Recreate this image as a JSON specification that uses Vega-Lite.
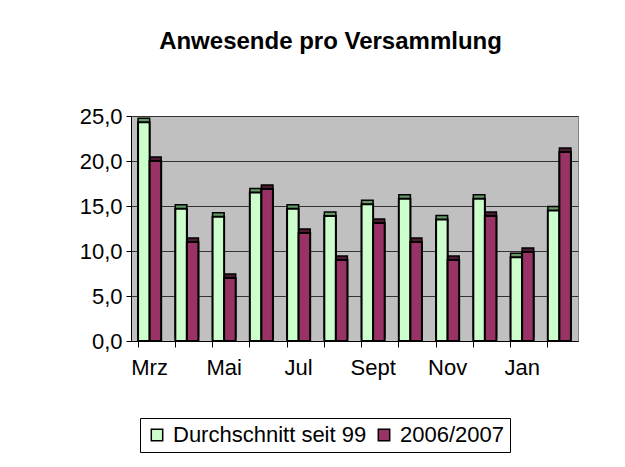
{
  "$schema": "https://vega.github.io/schema/vega-lite/v6.json",
  "width": 447,
  "height": 225,
  "autosize": {"type": "none"},
  "padding": {"left": 131, "top": 116, "right": 47, "bottom": 126},
  "background": "white",
  "title": {
    "text": "Anwesende pro Versammlung",
    "font": "Liberation Sans",
    "fontSize": 24,
    "fontWeight": "bold",
    "color": "black",
    "anchor": "middle",
    "dx": -24,
    "offset": 51
  },
  "data": {
    "values": [
      {"monat": "Mrz", "serie": "Durchschnitt seit 99", "wert": 24.3},
      {"monat": "Mrz", "serie": "2006/2007", "wert": 20.0},
      {"monat": "Apr", "serie": "Durchschnitt seit 99", "wert": 14.7},
      {"monat": "Apr", "serie": "2006/2007", "wert": 11.0},
      {"monat": "Mai", "serie": "Durchschnitt seit 99", "wert": 13.8},
      {"monat": "Mai", "serie": "2006/2007", "wert": 7.0},
      {"monat": "Jun", "serie": "Durchschnitt seit 99", "wert": 16.5},
      {"monat": "Jun", "serie": "2006/2007", "wert": 16.9},
      {"monat": "Jul", "serie": "Durchschnitt seit 99", "wert": 14.7},
      {"monat": "Jul", "serie": "2006/2007", "wert": 12.0},
      {"monat": "Aug", "serie": "Durchschnitt seit 99", "wert": 13.9},
      {"monat": "Aug", "serie": "2006/2007", "wert": 9.0},
      {"monat": "Sept", "serie": "Durchschnitt seit 99", "wert": 15.2},
      {"monat": "Sept", "serie": "2006/2007", "wert": 13.1},
      {"monat": "Okt", "serie": "Durchschnitt seit 99", "wert": 15.8},
      {"monat": "Okt", "serie": "2006/2007", "wert": 11.0},
      {"monat": "Nov", "serie": "Durchschnitt seit 99", "wert": 13.5},
      {"monat": "Nov", "serie": "2006/2007", "wert": 9.0},
      {"monat": "Dez", "serie": "Durchschnitt seit 99", "wert": 15.8},
      {"monat": "Dez", "serie": "2006/2007", "wert": 13.9},
      {"monat": "Jan", "serie": "Durchschnitt seit 99", "wert": 9.3},
      {"monat": "Jan", "serie": "2006/2007", "wert": 9.9},
      {"monat": "Feb", "serie": "Durchschnitt seit 99", "wert": 14.5},
      {"monat": "Feb", "serie": "2006/2007", "wert": 21.0}
    ]
  },
  "encoding": {
    "x": {
      "field": "monat",
      "type": "nominal",
      "sort": ["Mrz", "Apr", "Mai", "Jun", "Jul", "Aug", "Sept", "Okt", "Nov", "Dez", "Jan", "Feb"],
      "scale": {"paddingInner": 0.38, "paddingOuter": 0.19},
      "axis": {
        "title": null,
        "labelAngle": 0,
        "labelFont": "Liberation Sans",
        "labelFontSize": 22,
        "labelColor": "black",
        "labelPadding": 10,
        "labelExpr": "indexof(['Mrz','Mai','Jul','Sept','Nov','Jan'], datum.value) >= 0 ? datum.value : ''",
        "bandPosition": 0,
        "tickSize": 6,
        "tickColor": "black",
        "domainColor": "black",
        "grid": false
      }
    },
    "xOffset": {
      "field": "serie",
      "type": "nominal",
      "sort": ["Durchschnitt seit 99", "2006/2007"],
      "scale": {"paddingInner": 0}
    },
    "y": {
      "field": "wert",
      "type": "quantitative",
      "scale": {"domain": [0, 25], "nice": false},
      "axis": {
        "title": null,
        "values": [0, 5, 10, 15, 20, 25],
        "labelExpr": "replace(format(datum.value, '.1f'), '.', ',')",
        "labelFont": "Liberation Sans",
        "labelFontSize": 22,
        "labelColor": "black",
        "labelPadding": 4,
        "tickSize": 5,
        "tickColor": "black",
        "domainColor": "black",
        "gridColor": "#333333",
        "gridWidth": 1
      }
    }
  },
  "layer": [
    {
      "mark": {"type": "bar", "xOffset": 4, "yOffset": -4, "stroke": "black", "strokeWidth": 1.5},
      "encoding": {
        "fill": {
          "condition": {"test": "datum.serie === '2006/2007'", "value": "#4d1a33"},
          "value": "#669966"
        }
      }
    },
    {
      "mark": {"type": "bar", "stroke": "black", "strokeWidth": 2},
      "encoding": {
        "color": {
          "field": "serie",
          "type": "nominal",
          "sort": ["Durchschnitt seit 99", "2006/2007"],
          "scale": {"domain": ["Durchschnitt seit 99", "2006/2007"], "range": ["#CCFFCC", "#993366"]},
          "legend": {
            "title": null,
            "orient": "none",
            "direction": "horizontal",
            "legendX": 9,
            "legendY": 302,
            "symbolType": "square",
            "symbolSize": 130,
            "symbolStrokeColor": "black",
            "symbolStrokeWidth": 1.5,
            "labelFont": "Liberation Sans",
            "labelFontSize": 22,
            "labelColor": "black",
            "labelLimit": 400,
            "labelOffset": 5,
            "columnPadding": 6,
            "strokeColor": "black",
            "padding": 6
          }
        }
      }
    }
  ],
  "config": {
    "view": {"fill": "#C0C0C0", "stroke": "#808080"}
  }
}
